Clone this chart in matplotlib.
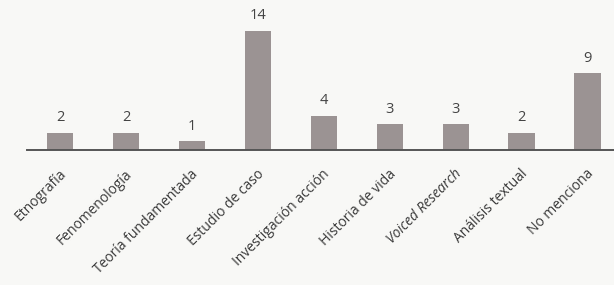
import matplotlib.pyplot as plt
import matplotlib.transforms as mtransforms

categories = ['Etnografía', 'Fenomenología', 'Teoría fundamentada', 'Estudio de caso',
              'Investigación acción', 'Historia de vida', 'Voiced Research',
              'Análisis textual', 'No menciona']
counts = [2, 2, 1, 14, 4, 3, 3, 2, 9]

plt.rcParams['font.family'] = ['Open Sans', 'DejaVu Sans']

fig = plt.figure(figsize=(6.14, 2.85), dpi=100, facecolor='#f8f8f6')
ax = fig.add_axes([0.044, 0.474, 0.956, 0.477])
ax.set_facecolor('#f8f8f6')

x = list(range(len(categories)))
ax.bar(x, counts, width=0.4, color='#9b9393', edgecolor='none')
for xi, c in zip(x, counts):
    ax.text(xi, c + 0.9, str(c), ha='center', va='bottom', fontsize=10.5, color='#444444')

ax.set_xlim(-0.5, 8.4)
ax.set_ylim(0, 16)
for s in ['top', 'right', 'left']:
    ax.spines[s].set_visible(False)
ax.spines['bottom'].set_color('#555555')
ax.spines['bottom'].set_linewidth(1.4)
ax.set_yticks([])
ax.set_xticks(x)
ax.set_xticklabels(categories, rotation=45, ha='right', rotation_mode='anchor',
                   fontsize=10, color='#3a3a3a')
ax.tick_params(axis='x', length=0, pad=12)
offset = mtransforms.ScaledTranslation(-1 / 72, 0, fig.dpi_scale_trans)
for lbl in ax.get_xticklabels():
    lbl.set_transform(lbl.get_transform() + offset)
    if lbl.get_text() == 'Voiced Research':
        lbl.set_style('italic')

plt.savefig('out.png', dpi=100, facecolor=fig.get_facecolor())
